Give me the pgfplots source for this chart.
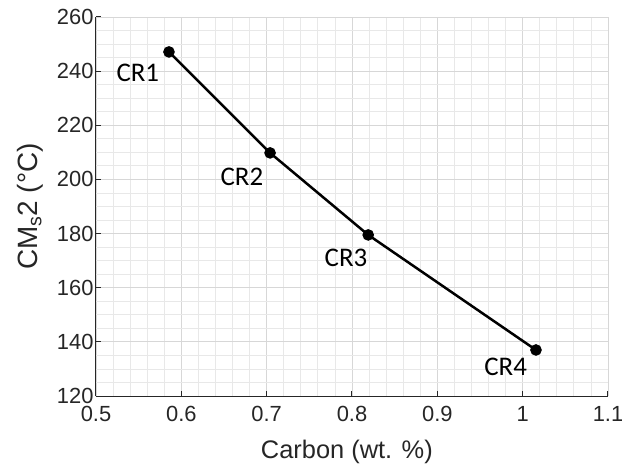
\documentclass[border=0pt]{standalone}
\usepackage{fontspec}
\setmainfont{Liberation Sans}
\newfontfamily\calib{Carlito}
\usepackage{pgfplots}
\pgfplotsset{compat=1.18}
\definecolor{axgray}{RGB}{38,38,38}
\definecolor{majgrid}{RGB}{215,215,215}
\definecolor{mingrid}{RGB}{232,232,232}
\begin{document}
\begin{tikzpicture}
\begin{axis}[
    at={(0,0)}, anchor=south west,
    scale only axis,
    width=512bp, height=379bp,
    xmin=0.5, xmax=1.1,
    ymin=120, ymax=260,
    xtick={0.5,0.6,...,1.1},
    ytick={120,140,...,260},
    xticklabels={0.5,0.6,0.7,0.8,0.9,1,1.1},
    minor x tick num=4,
    minor y tick num=3,
    grid=both,
    major grid style={majgrid, line width=0.8bp},
    minor grid style={mingrid, line width=0.8bp},
    axis x line*=bottom,
    axis y line*=left,
    axis line style={axgray, line width=1bp, -},
    tick style={axgray, line width=1bp},
    major tick length=5bp,
    minor tick length=0pt,
    tick align=inside,
    /pgf/number format/assume math mode=true,
    tick label style={font=\fontsize{22}{26}\selectfont, text=axgray},
    xticklabel style={yshift=-7bp},
    yticklabel style={xshift=1bp},
    xlabel={Carbon (wt. \%)},
    ylabel={CM\textsubscript{s}2 (°C)},
    xlabel style={font=\fontsize{25.5}{30}\selectfont, text=axgray,
      at={(axis description cs:0.49,-0.148)}, anchor=center},
    ylabel style={font=\fontsize{28}{32}\selectfont, text=axgray,
      at={(axis description cs:-0.128,0.5)}, anchor=center},
  ]
  \addplot[black, line width=2.5bp, mark=*, mark size=4.5bp]
    coordinates {(0.5855,247.1) (0.704,209.8) (0.819,179.5) (1.0156,137.0)};
  \node[font=\calib\fontsize{27}{30}\selectfont] at (axis cs:0.549,239.5) {CR1};
  \node[font=\calib\fontsize{27}{30}\selectfont] at (axis cs:0.671,201.1) {CR2};
  \node[font=\calib\fontsize{27}{30}\selectfont] at (axis cs:0.793,171.2) {CR3};
  \node[font=\calib\fontsize{27}{30}\selectfont] at (axis cs:0.980,130.9) {CR4};
\end{axis}
\pgfresetboundingbox
\path[use as bounding box] (-96bp,-68bp) rectangle (526bp,396bp);
\end{tikzpicture}
\end{document}
